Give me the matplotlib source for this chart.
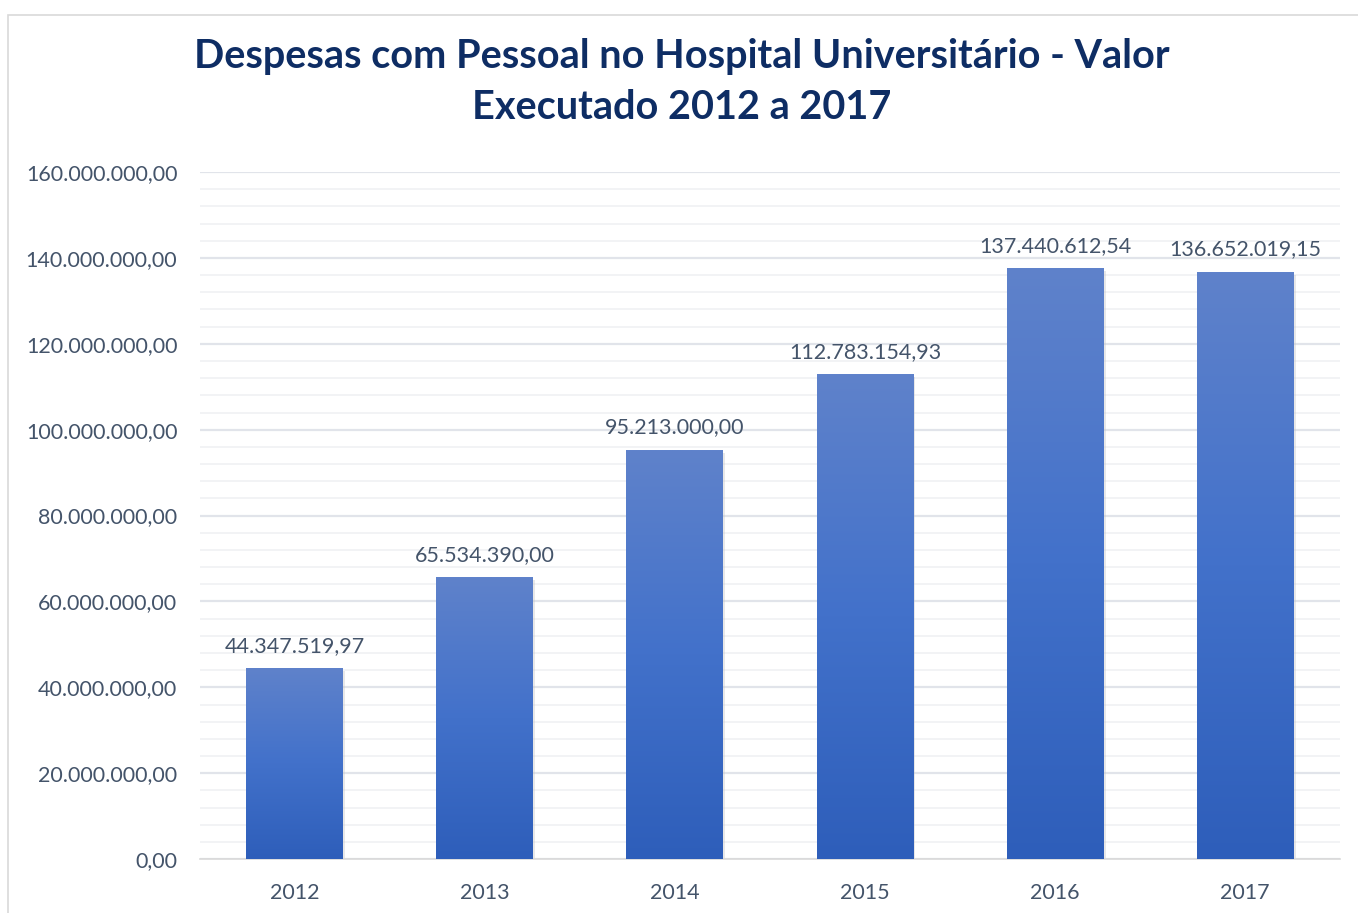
import numpy as np
import matplotlib.pyplot as plt
from matplotlib.ticker import MultipleLocator, FuncFormatter
from matplotlib.colors import LinearSegmentedColormap
from matplotlib.patches import Rectangle

anos = ["2012", "2013", "2014", "2015", "2016", "2017"]
valores = [44347519.97, 65534390.00, 95213000.00, 112783154.93, 137440612.54, 136652019.15]
rotulos = ["44.347.519,97", "65.534.390,00", "95.213.000,00",
           "112.783.154,93", "137.440.612,54", "136.652.019,15"]

plt.rcParams['font.family'] = ['Lato', 'DejaVu Sans']


def br_fmt(v, pos=None):
    s = f"{v:,.2f}"
    return s.replace(",", "X").replace(".", ",").replace("X", ".")


fig = plt.figure(figsize=(13.58, 9.13), dpi=100)
ax = fig.add_axes([0.147, 0.059, 0.84, 0.7526])

# chart border
fig.patches.append(Rectangle((8 / 1358, -0.1), 1.2, (913 - 15) / 913 + 0.1,
                             transform=fig.transFigure, fill=False,
                             edgecolor="#D9D9D9", linewidth=1.2))

x = np.arange(len(anos))
largura = 0.51
cmap = LinearSegmentedColormap.from_list("grad", ["#2E5EBA", "#4271CA", "#5F82CB"])
grad = np.linspace(0, 1, 256).reshape(-1, 1)

bars = ax.bar(x, valores, width=largura, color="none", zorder=3)
for b, v, r in zip(bars, valores, rotulos):
    x0 = b.get_x()
    # soft shadow
    ax.add_patch(Rectangle((x0 + 0.01, -600000), largura, v, facecolor="#BFBFBF",
                           alpha=0.35, edgecolor="none", zorder=2))
    ax.imshow(grad, cmap=cmap, aspect="auto", origin="lower",
              extent=(x0, x0 + largura, 0, v), zorder=3)
    ax.text(b.get_x() + largura / 2, v + 3000000, r, ha="center", va="bottom",
            fontsize=15.5, color="#44546A", zorder=4)

ax.set_xlim(-0.5, len(anos) - 0.5)
ax.set_ylim(0, 160000000)
ax.yaxis.set_major_locator(MultipleLocator(20000000))
ax.yaxis.set_minor_locator(MultipleLocator(4000000))
ax.yaxis.set_major_formatter(FuncFormatter(br_fmt))
ax.set_xticks(x)
ax.set_xticklabels(anos)

ax.grid(axis="y", which="major", color="#E1E4EA", linewidth=1.6, zorder=0)
ax.grid(axis="y", which="minor", color="#F0F1F3", linewidth=1.2, zorder=0)
ax.set_axisbelow(True)
for s in ["top", "right", "left"]:
    ax.spines[s].set_visible(False)
ax.spines["bottom"].set_color("#D9D9D9")
ax.spines["bottom"].set_linewidth(1.2)
ax.tick_params(axis="both", which="both", length=0, labelsize=15.5, colors="#44546A")
ax.tick_params(axis="y", pad=16)
ax.tick_params(axis="x", pad=17)

fig.text(0.502, 0.910, "Despesas com Pessoal no Hospital Universitário - Valor\nExecutado 2012 a 2017",
         ha="center", va="center", fontsize=28.5, fontweight="bold", color="#0E2D64",
         linespacing=1.45)

fig.savefig("out.png", dpi=100)
